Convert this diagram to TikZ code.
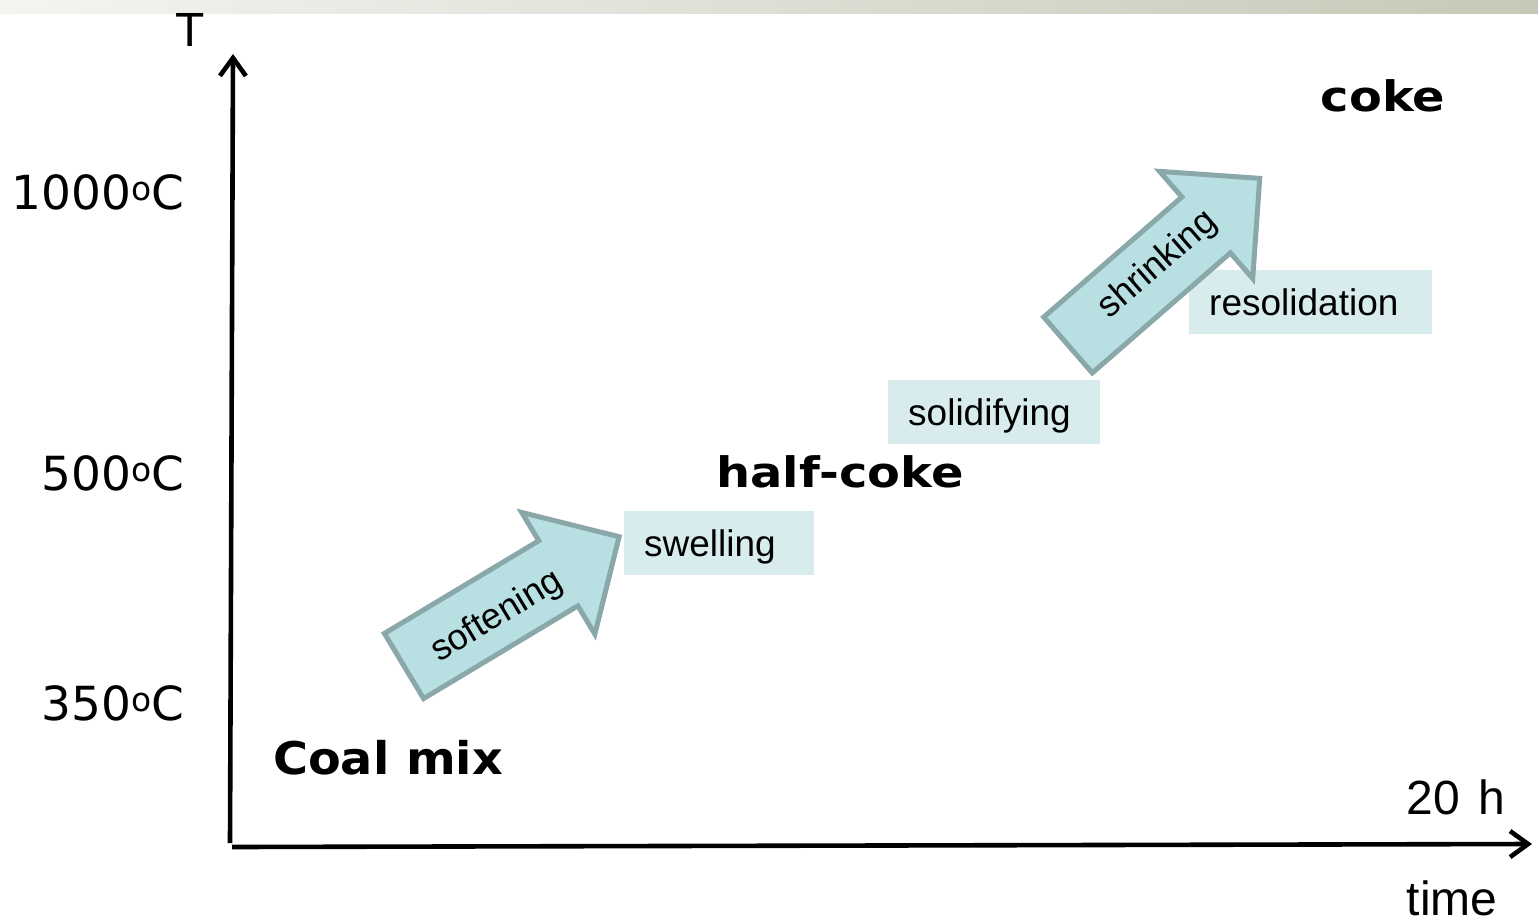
\documentclass[tikz,border=0pt]{standalone}
\usepackage{fontspec}
\setmainfont{Liberation Sans}
\newfontfamily\verd{DejaVu Sans}
\usetikzlibrary{arrows.meta}
\definecolor{boxfill}{HTML}{D8ECEE}
\definecolor{arrfill}{HTML}{B8DFE2}
\definecolor{arrline}{HTML}{8AA7A9}
\definecolor{stripL}{HTML}{F4F4F1}
\definecolor{stripR}{HTML}{C6C9B7}
\begin{document}
\begin{tikzpicture}[x=1pt,y=-1pt,
  axisline/.style={line width=4.6pt,-{Straight Barb[length=18pt,width=26pt,line width=4.6pt]}},
  tlabel/.style={inner sep=0pt,font=\verd\fontsize{47}{56}\selectfont},
  stage/.style={inner sep=0pt,font=\verd\bfseries\fontsize{42}{50}\selectfont},
  plain/.style={inner sep=0pt,font=\fontsize{48}{57}\selectfont},
  phase/.style={fill=boxfill,inner xsep=20pt,inner ysep=0pt,align=left,
    text height=31pt,text depth=4pt,minimum height=64pt,font=\fontsize{37}{44}\selectfont},
  blockarrow/.style={fill=arrfill,draw=arrline,line width=5pt,line join=miter},
  arrlabel/.style={inner sep=0pt,font=\fontsize{36}{43}\selectfont}]
\useasboundingbox (0,0) rectangle (1538,923);
\shade[left color=stripL,right color=stripR] (0,0) rectangle (1538,14);

% axes
\coordinate (yb) at (230,843);
\coordinate (yt) at (233,54);
\coordinate (xl) at (232,847);
\coordinate (xr) at (1532,844);
\draw[axisline] (yb) -- (yt);
\draw[axisline] (xl) -- (xr);

% axis labels
\node[plain] (T) at (190,30) {T};
\node[tlabel,anchor=east] (t1000) at (185,192) {1000\textsuperscript{o}C};
\node[tlabel,anchor=east] (t500) at (185,473) {500\textsuperscript{o}C};
\node[tlabel,anchor=east] (t350) at (185,703) {350\textsuperscript{o}C};
\node[plain] (h20) at (1456,797) {20\hspace{0.38em}h};
\node[plain] (time) at (1452,898) {time};

% stages
\node[stage,anchor=west,font=\verd\bfseries\fontsize{45}{54}\selectfont] (coal) at (273,758) {\scalebox{1.06}[1]{Coal mix}};
\node[stage] (half) at (840,472) {\scalebox{1.14}[1]{half-coke}};
\node[stage] (coke) at (1383,96) {\scalebox{1.14}[1]{coke}};

% phase boxes
\node[phase,text width=150pt,anchor=north west] (swell) at (624,511) {swelling};
\node[phase,text width=172pt,anchor=north west] (solid) at (888,380) {solidifying};
\node[phase,text width=203pt,anchor=north west] (resol) at (1189,270) {resolidation};

% block arrows
\begin{scope}[shift={(404,666)},rotate=31]
  \draw[blockarrow] (0,-38) -- (180,-38) -- (180,-71) -- (251,0) -- (180,71) -- (180,38) -- (0,38) -- cycle;
\end{scope}
\begin{scope}[shift={(1068,345)},rotate=41]
  \draw[blockarrow] (0,-37) -- (183,-37) -- (183,-71) -- (254,0) -- (183,71) -- (183,37) -- (0,37) -- cycle;
\end{scope}
\node[arrlabel,rotate=31] (soft) at (497,617) {softening};
\node[arrlabel,rotate=41] (shrink) at (1158,265) {shrinking};
\end{tikzpicture}
\end{document}
